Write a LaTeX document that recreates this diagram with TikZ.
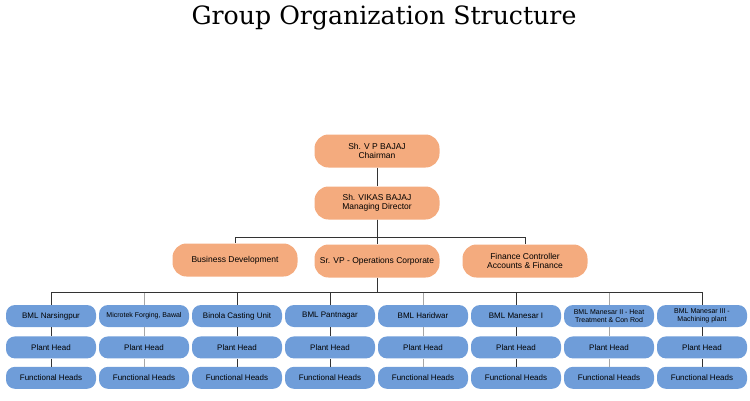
\documentclass[tikz,border=0pt]{standalone}
\usepackage{fontspec}
\setsansfont{Liberation Sans}
\newfontfamily\titlefont{DejaVu Serif}
\usepackage{xcolor}
\usetikzlibrary{positioning}

\definecolor{headorange}{HTML}{F4AB7E}
\definecolor{unitblue}{HTML}{6F9DD9}

\begin{document}
\begin{tikzpicture}[
  x=1pt, y=-1pt,
  every node/.style={align=center, font=\sffamily\fontsize{8.5}{9.5}\selectfont},
  head/.style={fill=headorange, rounded corners=14pt, minimum height=33pt, minimum width=125pt, inner sep=1pt},
  unit/.style={fill=unitblue, rounded corners=9pt, minimum height=22pt, minimum width=90pt, inner sep=1pt,
               font=\sffamily\fontsize{8}{8.5}\selectfont},
  tight/.style={font=\sffamily\fontsize{7}{7.6}\selectfont},
  link/.style={draw=black!80, line width=0.8pt},
  faint/.style={draw=black!35, line width=0.8pt},
  node distance=9pt,
]
  \useasboundingbox (0,0) rectangle (750,400);

  \node[font=\titlefont\fontsize{25.2}{27}\selectfont] (title) at (384,18) {Group Organization Structure};

  % top of the chart
  \node[head] (chair) at (377,151) {Sh. V P BAJAJ\\Chairman};
  \node[head] (md)    at (377,203) {Sh. VIKAS BAJAJ\\Managing Director};
  \node[head] (bd)    at (235,260) {Business Development};
  \node[head] (svp)   at (377,261) {Sr. VP - Operations Corporate};
  \node[head] (fin)   at (525,261) {Finance Controller\\Accounts \& Finance};

  \draw[link] (chair) -- (md);
  \draw[link] (md) -- (svp);
  \draw[link] (md.south) -- ++(0,18) -| (bd.north);
  \draw[link] (md.south) -- ++(0,18) -| (fin.north);

  % plants, each with its plant head and functional heads
  \node[unit]        (u1) at (51,316)  {BML Narsingpur};
  \node[unit, tight] (u2) at (144,316) {Microtek Forging, Bawal};
  \node[unit]        (u3) at (237,316) {Binola Casting Unit};
  \node[unit]        (u4) at (330,316) {BML Pantnagar};
  \node[unit]        (u5) at (423,316) {BML Haridwar};
  \node[unit]        (u6) at (516,316) {BML Manesar I};
  \node[unit, tight] (u7) at (609,316) {BML Manesar II - Heat\\Treatment \& Con Rod};
  \node[unit, tight] (u8) at (702,316) {BML Manesar III -\\Machining plant};

  \node[unit, below=of u1] (p1) {Plant Head};
  \node[unit, below=of u2] (p2) {Plant Head};
  \node[unit, below=of u3] (p3) {Plant Head};
  \node[unit, below=of u4] (p4) {Plant Head};
  \node[unit, below=of u5] (p5) {Plant Head};
  \node[unit, below=of u6] (p6) {Plant Head};
  \node[unit, below=of u7] (p7) {Plant Head};
  \node[unit, below=of u8] (p8) {Plant Head};

  \node[unit, below=8pt of p1] (f1) {Functional Heads};
  \node[unit, below=8pt of p2] (f2) {Functional Heads};
  \node[unit, below=8pt of p3] (f3) {Functional Heads};
  \node[unit, below=8pt of p4] (f4) {Functional Heads};
  \node[unit, below=8pt of p5] (f5) {Functional Heads};
  \node[unit, below=8pt of p6] (f6) {Functional Heads};
  \node[unit, below=8pt of p7] (f7) {Functional Heads};
  \node[unit, below=8pt of p8] (f8) {Functional Heads};

  % bus under the operations head
  \draw[link] (svp.south) -- ++(0,15) coordinate (bus);
  \draw[link] (bus) -| (u1.north);
  \draw[link] (bus) -| (u8.north);
  \draw[faint] (u2.north |- bus) -- (u2.north);
  \draw[link]  (u3.north |- bus) -- (u3.north);
  \draw[link]  (u4.north |- bus) -- (u4.north);
  \draw[faint] (u5.north |- bus) -- (u5.north);
  \draw[link]  (u6.north |- bus) -- (u6.north);
  \draw[faint] (u7.north |- bus) -- (u7.north);

  \draw[link]  (u1) -- (p1) (p1) -- (f1);
  \draw[faint] (u2) -- (p2) (p2) -- (f2);
  \draw[link]  (u3) -- (p3) (p3) -- (f3);
  \draw[link]  (u4) -- (p4) (p4) -- (f4);
  \draw[faint] (u5) -- (p5) (p5) -- (f5);
  \draw[link]  (u6) -- (p6) (p6) -- (f6);
  \draw[faint] (u7) -- (p7) (p7) -- (f7);
  \draw[link]  (u8) -- (p8) (p8) -- (f8);
\end{tikzpicture}
\end{document}
